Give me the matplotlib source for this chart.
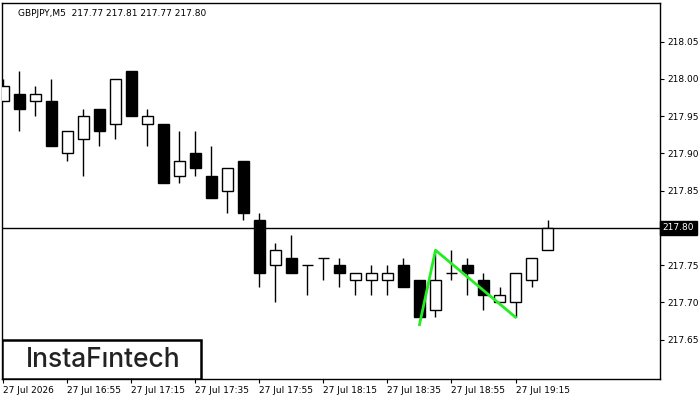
import matplotlib
matplotlib.use("Agg")
import matplotlib.pyplot as plt
from matplotlib.patches import Rectangle

# GBPJPY M5 candles, 16:35 .. 19:25
opens  = [217.97, 217.98, 217.97, 217.97, 217.90, 217.92, 217.96, 217.94, 218.01, 217.94,
          217.94, 217.87, 217.90, 217.87, 217.85, 217.89, 217.81, 217.75, 217.76, 217.75,
          217.76, 217.75, 217.73, 217.73, 217.73, 217.75, 217.73, 217.69, 217.74, 217.75,
          217.73, 217.70, 217.70, 217.73, 217.77]
highs  = [218.00, 218.01, 217.99, 218.00, 217.93, 217.96, 217.96, 218.00, 218.01, 217.96,
          217.94, 217.93, 217.93, 217.91, 217.88, 217.89, 217.82, 217.78, 217.79, 217.75,
          217.76, 217.76, 217.74, 217.75, 217.75, 217.76, 217.73, 217.77, 217.77, 217.76,
          217.74, 217.72, 217.74, 217.76, 217.81]
lows   = [217.97, 217.93, 217.95, 217.91, 217.89, 217.87, 217.91, 217.92, 217.95, 217.91,
          217.86, 217.86, 217.87, 217.84, 217.82, 217.81, 217.72, 217.70, 217.74, 217.71,
          217.73, 217.72, 217.71, 217.71, 217.71, 217.72, 217.68, 217.68, 217.73, 217.71,
          217.69, 217.70, 217.68, 217.72, 217.77]
closes = [217.99, 217.96, 217.98, 217.91, 217.93, 217.95, 217.93, 218.00, 217.95, 217.95,
          217.86, 217.89, 217.88, 217.84, 217.88, 217.82, 217.74, 217.77, 217.74, 217.75,
          217.76, 217.74, 217.74, 217.74, 217.74, 217.72, 217.68, 217.73, 217.74, 217.74,
          217.71, 217.71, 217.74, 217.76, 217.80]

tick_pos = [0, 4, 8, 12, 16, 20, 24, 28, 32]
tick_labels = ["27 Jul 2026", "27 Jul 16:55", "27 Jul 17:15", "27 Jul 17:35", "27 Jul 17:55",
               "27 Jul 18:15", "27 Jul 18:35", "27 Jul 18:55", "27 Jul 19:15"]
price_ticks = [217.65, 217.70, 217.75, 217.80, 217.85, 217.90, 217.95, 218.00, 218.05]

# pattern (green) and current price
pattern_x = [26, 27, 32]
pattern_y = [217.67, 217.77, 217.68]
last_price = 217.80

fig = plt.figure(figsize=(7, 4), dpi=100)
ax = fig.add_axes([2 / 700, 21 / 400, 658 / 700, 376 / 400])

xs = list(range(len(opens)))
w = 0.66
for i in xs:
    o, h, l, c = opens[i], highs[i], lows[i], closes[i]
    top, bot = max(o, c), min(o, c)
    ax.vlines(i, l, bot, color="black", linewidth=1, zorder=2)
    ax.vlines(i, top, h, color="black", linewidth=1, zorder=2)
    if abs(c - o) < 1e-9:
        ax.hlines(o, i - w / 2, i + w / 2, color="black", linewidth=1, zorder=3)
    else:
        fc = "white" if c > o else "black"
        ax.bar(i, top - bot, bottom=bot, width=w, facecolor=fc,
               edgecolor="black", linewidth=1, zorder=3)

ax.axhline(last_price, color="black", linewidth=1, zorder=1)
ax.plot(pattern_x, pattern_y, color="#22ee22", linewidth=2, zorder=4)

ax.set_xlim(-0.09, 41.03)
ax.set_ylim(217.597, 218.102)

ax.yaxis.tick_right()
ax.set_yticks(price_ticks)
# the current price tag sits over the 217.80 label
ax.set_yticklabels(["" if abs(p - last_price) < 1e-9 else f"{p:.2f}" for p in price_ticks])
ax.set_xticks(tick_pos)
ax.set_xticklabels(tick_labels, ha="left")
ax.tick_params(axis="both", labelsize=6.5, length=3, width=0.8, direction="out", pad=2)
for sp in ax.spines.values():
    sp.set_linewidth(1)

# price tag
ax.text(1.004, last_price, f"{last_price:.2f}", transform=ax.get_yaxis_transform(),
        ha="left", va="center", fontsize=6.5, color="white",
        bbox=dict(boxstyle="square,pad=0.3", facecolor="black", edgecolor="black"))

ax.text(0.024, 0.985, "GBPJPY,M5  217.77 217.81 217.77 217.80", transform=ax.transAxes,
        ha="left", va="top", fontsize=6.5, color="black")

# logo
ax.add_patch(Rectangle((0, 0), 0.302, 0.104, transform=ax.transAxes, facecolor="white",
                       edgecolor="black", linewidth=1.8, zorder=5))
ax.text(0.154, 0.05, "InstaF\u0131ntech", transform=ax.transAxes, ha="center", va="center",
        fontsize=19, family="Inter", fontweight="medium", color="#222222", zorder=6)

fig.savefig("out.png", dpi=100)
